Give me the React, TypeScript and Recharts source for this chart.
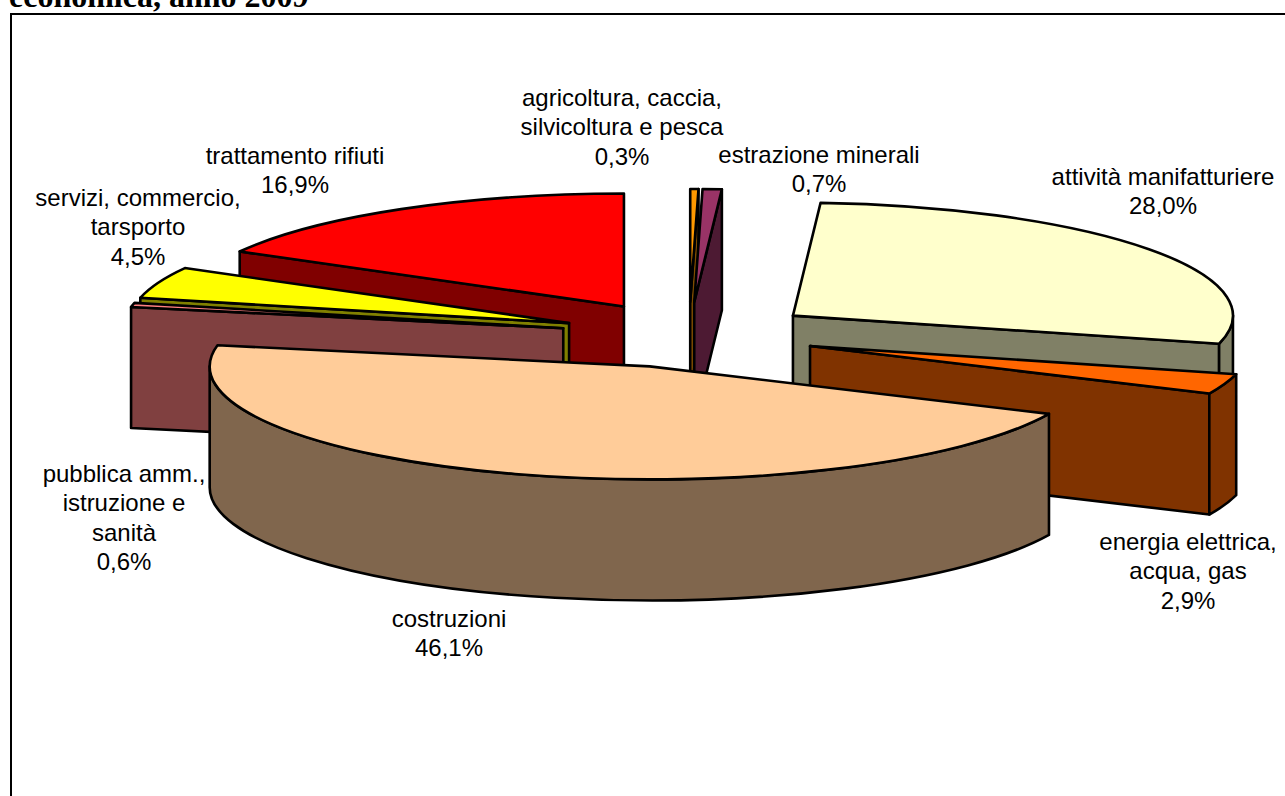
import React from 'react';
import { PieChart, Pie } from 'recharts';

// settori, in ordine orario a partire dalle ore 12
const categories = [
  'agricoltura, caccia, silvicoltura e pesca',
  'estrazione minerali',
  'attività manifatturiere',
  'energia elettrica, acqua, gas',
  'costruzioni',
  'pubblica amm., istruzione e sanità',
  'servizi, commercio, tarsporto',
  'trattamento rifiuti',
];
const values = [0.3, 0.7, 28.0, 2.9, 46.1, 0.6, 4.5, 16.9];
const topColors = ['#FF9900', '#993366', '#FFFFCC', '#FF6600', '#FFCC99', '#FF8080', '#FFFF00', '#FF0000'];
const sideColors = ['#804D00', '#4D1A33', '#808066', '#803300', '#80664D', '#804040', '#808000', '#800000'];

// wrapped lines of each label
const labelLines = [
  ['agricoltura, caccia,', 'silvicoltura e pesca'],
  ['estrazione minerali'],
  ['attività manifatturiere'],
  ['energia elettrica,', 'acqua, gas'],
  ['costruzioni'],
  ['pubblica amm.,', 'istruzione e', 'sanità'],
  ['servizi, commercio,', 'tarsporto'],
  ['trattamento rifiuti'],
];
// centre x and first baseline of each label
const labelX = [622, 819, 1163, 1188, 449, 124, 138, 295];
const labelY = [106, 163, 185, 550, 627, 482, 206, 164];

// back to front, the slices overlap each other
const drawOrder = [7, 6, 5, 0, 1, 2, 3, 4];

const data = categories.map((name, i) => ({
  name,
  value: values[i],
  fill: topColors[i],
  side: sideColors[i],
  lines: labelLines[i],
  lx: labelX[i],
  ly: labelY[i],
}));

const SQUASH = 113 / 440;
const DEPTH = 121;
const EXPLODE = 0.292;
const RAD = Math.PI / 180;

function Slice3D(props: any) {
  const { cx, cy, outerRadius: r, startAngle, endAngle, midAngle, fill, payload } = props;
  const side = payload?.side ?? props.side;
  const ox = cx + EXPLODE * r * Math.cos(midAngle * RAD);
  const oy = cy - EXPLODE * r * SQUASH * Math.sin(midAngle * RAD);
  const ry = r * SQUASH;
  const pt = (a: number, dy = 0) =>
    `${ox + r * Math.cos(a * RAD)} ${oy - ry * Math.sin(a * RAD) + dy}`;
  const tip = `${ox} ${oy}`;
  const tipLow = `${ox} ${oy + DEPTH}`;
  const edge = { stroke: '#000', strokeWidth: 2.6, strokeLinejoin: 'round' as const };

  // facce radiali, solo quelle rivolte verso chi guarda
  const walls = [];
  const endTheta = 90 - endAngle;
  const startTheta = 90 - startAngle;
  if (Math.sin(endTheta * RAD) > 0) {
    walls.push(`M${tip} L${pt(endAngle)} L${pt(endAngle, DEPTH)} L${tipLow} Z`);
  }
  if (Math.sin(startTheta * RAD) < 0) {
    walls.push(`M${tip} L${pt(startAngle)} L${pt(startAngle, DEPTH)} L${tipLow} Z`);
  }

  // parete curva: solo la parte anteriore, tra 3 e 9 ore
  const wallFrom = Math.max(startTheta, 90);
  const wallTo = Math.min(endTheta, 270);
  let curved = null;
  if (wallTo > wallFrom) {
    const a1 = 90 - wallFrom;
    const a2 = 90 - wallTo;
    const large = wallTo - wallFrom > 180 ? 1 : 0;
    curved = `M${pt(a1)} A${r} ${ry} 0 ${large} 1 ${pt(a2)} L${pt(a2, DEPTH)} A${r} ${ry} 0 ${large} 0 ${pt(a1, DEPTH)} Z`;
  }

  const large = startAngle - endAngle > 180 ? 1 : 0;
  const top = `M${tip} L${pt(startAngle)} A${r} ${ry} 0 ${large} 1 ${pt(endAngle)} Z`;

  return (
    <g>
      {walls.map((d) => (
        <path key={d} d={d} fill={side} {...edge} />
      ))}
      {curved && <path d={curved} fill={side} {...edge} />}
      <path d={top} fill={fill} {...edge} />
    </g>
  );
}

function SliceLabel(props: any) {
  const p = props.payload ?? props;
  const pct = `${p.value.toFixed(1).replace('.', ',')}%`;
  const lines = [...p.lines, pct];
  return (
    <text textAnchor="middle" fontFamily="Liberation Sans" fontSize={24} fill="#000">
      {lines.map((l: string, i: number) => (
        <tspan key={l} x={p.lx} y={p.ly + i * 29.4}>
          {l}
        </tspan>
      ))}
    </text>
  );
}

export default function App() {
  return (
    <div style={{ position: 'absolute', left: 0, top: 0, width: 1285, height: 796, overflow: 'hidden', background: '#fff' }}>
      <div
        style={{
          position: 'absolute',
          left: 9,
          top: -22,
          fontFamily: 'Liberation Serif',
          fontWeight: 'bold',
          fontSize: 32,
          lineHeight: '36px',
          whiteSpace: 'nowrap',
        }}
      >
        economica, anno 2009
      </div>
      <div
        style={{
          position: 'absolute',
          left: 10,
          top: 13,
          width: 1400,
          height: 900,
          borderLeft: '2px solid #000',
          borderTop: '2px solid #000',
        }}
      />
      <div style={{ position: 'absolute', left: 0, top: 0 }}>
        <PieChart width={1285} height={796} margin={{ top: 0, right: 0, bottom: 0, left: 0 }}>
          {drawOrder.map((idx, n) => {
            const Only = (props: any) => (props.name === categories[idx] ? <Slice3D {...props} /> : <g />);
            return (
              <Pie
                key={categories[idx]}
                data={data}
                dataKey="value"
                nameKey="name"
                cx={689}
                cy={335}
                innerRadius={0}
                outerRadius={440}
                startAngle={90}
                endAngle={-270}
                paddingAngle={0}
                isAnimationActive={false}
                shape={Only}
                inactiveShape={Only}
                activeShape={Only}
                labelLine={false}
                label={n === drawOrder.length - 1 ? (p: any) => <SliceLabel {...p} /> : false}
                legendType="none"
              />
            );
          })}
        </PieChart>
      </div>
    </div>
  );
}
